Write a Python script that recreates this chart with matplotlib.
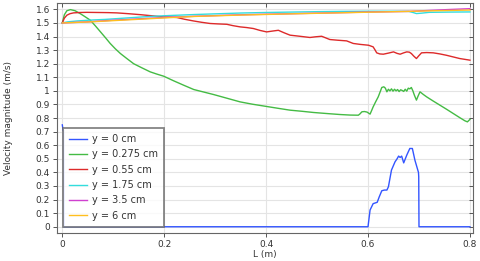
import matplotlib
matplotlib.use("Agg")
import matplotlib.pyplot as plt
import numpy as np

plt.rcParams['font.family'] = ['DejaVu Sans']

labels = ["y = 0 cm", "y = 0.275 cm", "y = 0.55 cm", "y = 1.75 cm", "y = 3.5 cm", "y = 6 cm"]
colors = ["#3355ff", "#44bb44", "#dd2a2a", "#33dddd", "#d040d0", "#ffbf1f"]

blue_x = [0, 0.0015, 0.0025, 0.003, 0.6, 0.6006, 0.604, 0.61, 0.618, 0.622, 0.627, 0.632, 0.637, 0.64, 0.646,
          0.653, 0.657, 0.66, 0.663, 0.666, 0.67, 0.676, 0.682, 0.687, 0.692, 0.699, 0.6995, 0.7, 0.8]
blue_y = [0.75, 0.71, 0.71, 0.0, 0.0, 0.02, 0.123, 0.17, 0.18, 0.22, 0.265, 0.27, 0.27, 0.294, 0.417,
          0.478, 0.50, 0.52, 0.51, 0.52, 0.47, 0.527, 0.576, 0.576, 0.49, 0.40, 0.368, 0.0, 0.0]

green_x = [0, 0.004, 0.009, 0.016, 0.025, 0.035, 0.045, 0.055, 0.065, 0.075, 0.085, 0.094, 0.104, 0.114,
           0.127, 0.14, 0.156, 0.1725, 0.186, 0.199, 0.218, 0.238, 0.258, 0.277, 0.297, 0.323, 0.349, 0.373,
           0.398, 0.423, 0.447, 0.47, 0.493, 0.52, 0.545, 0.565, 0.581, 0.584, 0.588, 0.593, 0.598, 0.604,
           0.607, 0.61, 0.615, 0.62, 0.624, 0.627, 0.631, 0.634, 0.637, 0.64, 0.643, 0.646, 0.649, 0.652,
           0.655, 0.658, 0.661, 0.664, 0.667, 0.670, 0.673, 0.676, 0.679, 0.682, 0.685, 0.688, 0.691, 0.695,
           0.698, 0.702, 0.708, 0.715, 0.728, 0.741, 0.754, 0.767, 0.78, 0.79, 0.795, 0.8]
green_y = [1.50, 1.56, 1.59, 1.598, 1.59, 1.569, 1.545, 1.52, 1.478, 1.434, 1.39, 1.349, 1.31, 1.275,
           1.237, 1.20, 1.17, 1.14, 1.123, 1.108, 1.075, 1.042, 1.01, 0.992, 0.973, 0.946, 0.919, 0.902,
           0.887, 0.872, 0.858, 0.85, 0.841, 0.833, 0.826, 0.822, 0.821, 0.83, 0.846, 0.848, 0.844, 0.829,
           0.855, 0.882, 0.92, 0.956, 0.995, 1.025, 1.03, 1.02, 0.993, 1.012, 1.0, 1.015, 0.998, 1.012,
           1.0, 1.01, 0.995, 1.008, 1.003, 0.996, 1.012, 0.998, 1.02, 1.015, 1.025, 1.0, 0.968, 0.932,
           0.96, 0.993, 0.975, 0.956, 0.925, 0.895, 0.865, 0.834, 0.803, 0.78, 0.772, 0.79]

red_x = [0, 0.004, 0.009, 0.015, 0.022, 0.035, 0.048, 0.07, 0.09, 0.107, 0.13, 0.153, 0.175, 0.199, 0.212,
         0.225, 0.24, 0.257, 0.273, 0.29, 0.305, 0.323, 0.335, 0.349, 0.362, 0.375, 0.388, 0.401, 0.412,
         0.424, 0.435, 0.447, 0.466, 0.486, 0.497, 0.509, 0.517, 0.525, 0.54, 0.558, 0.571, 0.585, 0.601,
         0.61, 0.614, 0.617, 0.623, 0.63, 0.64, 0.65, 0.657, 0.663, 0.67, 0.676, 0.681, 0.685, 0.69, 0.695,
         0.7, 0.705, 0.715, 0.728, 0.741, 0.754, 0.767, 0.78, 0.79, 0.8]
red_y = [1.5, 1.535, 1.557, 1.568, 1.574, 1.577, 1.578, 1.577, 1.576, 1.574, 1.568, 1.561, 1.553, 1.544,
         1.543, 1.54, 1.527, 1.515, 1.505, 1.496, 1.493, 1.49, 1.48, 1.471, 1.466, 1.459, 1.445, 1.434,
         1.44, 1.446, 1.428, 1.41, 1.402, 1.393, 1.398, 1.402, 1.39, 1.378, 1.373, 1.368, 1.349, 1.342,
         1.336, 1.324, 1.30, 1.28, 1.272, 1.27, 1.278, 1.287, 1.276, 1.27, 1.28, 1.287, 1.285, 1.275,
         1.255, 1.238, 1.26, 1.28, 1.282, 1.28, 1.272, 1.262, 1.25, 1.238, 1.232, 1.226]

cyan_x = [0, 0.01, 0.03, 0.06, 0.084, 0.12, 0.16, 0.2, 0.26, 0.3, 0.35, 0.4, 0.45, 0.5, 0.55, 0.6, 0.65,
          0.68, 0.69, 0.695, 0.705, 0.72, 0.76, 0.8]
cyan_y = [1.5, 1.508, 1.515, 1.522, 1.526, 1.535, 1.545, 1.553, 1.562, 1.567, 1.573, 1.577, 1.58, 1.583,
          1.585, 1.586, 1.586, 1.585, 1.575, 1.569, 1.572, 1.578, 1.58, 1.581]

mag_x = [0, 0.05, 0.1, 0.2, 0.26, 0.35, 0.45, 0.525, 0.6, 0.68, 0.72, 0.76, 0.8]
mag_y = [1.5, 1.508, 1.52, 1.54, 1.549, 1.56, 1.568, 1.574, 1.58, 1.585, 1.592, 1.599, 1.605]

yel_x = [0, 0.05, 0.1, 0.2, 0.26, 0.35, 0.45, 0.525, 0.6, 0.68, 0.72, 0.76, 0.8]
yel_y = [1.5, 1.507, 1.517, 1.537, 1.548, 1.558, 1.567, 1.573, 1.579, 1.585, 1.589, 1.592, 1.595]

series = [(blue_x, blue_y), (green_x, green_y), (red_x, red_y), (cyan_x, cyan_y), (mag_x, mag_y), (yel_x, yel_y)]

x_ticks = [0, 0.2, 0.4, 0.6, 0.8]
x_ticklabels = ["0", "0.2", "0.4", "0.6", "0.8"]
y_ticks = [round(0.1 * i, 1) for i in range(17)]
y_ticklabels = ["0", "0.1", "0.2", "0.3", "0.4", "0.5", "0.6", "0.7", "0.8", "0.9", "1",
                "1.1", "1.2", "1.3", "1.4", "1.5", "1.6"]

fig = plt.figure(figsize=(4.8, 2.61), dpi=100)
ax = fig.add_axes([57/480, 1 - 233/261, (473-57)/480, (233-2.7)/261])

for (xs, ys), c, lab in zip(series, colors, labels):
    ax.plot(xs, ys, color=c, lw=1.0, label=lab)

ax.set_xlim(-0.0104, 0.806)
ax.set_ylim(-0.046, 1.649)
ax.set_xticks(x_ticks)
ax.set_xticklabels(x_ticklabels)
ax.set_yticks(y_ticks)
ax.set_yticklabels(y_ticklabels)
ax.grid(True, color="#e4e4e4", lw=0.8)
ax.set_axisbelow(True)
for s in ax.spines.values():
    s.set_color("#666666")
    s.set_linewidth(0.8)
ax.tick_params(axis='both', which='major', labelsize=6.5, colors="#555555", labelcolor="#333333",
               length=3, width=0.7, pad=2, direction='out')
ax.tick_params(top=True, right=True)
for t in ax.xaxis.get_major_ticks():
    t.tick2line.set_marker(3)
for t in ax.yaxis.get_major_ticks():
    t.tick2line.set_marker(0)

ax.set_xlabel("L (m)", fontsize=6.5, color="#333333", labelpad=1)
ax.set_ylabel("Velocity magnitude (m/s)", fontsize=6.5, color="#333333", labelpad=16)

leg = ax.legend(loc='lower left', bbox_to_anchor=(0.0156, 0.028), borderaxespad=0, fontsize=7,
                frameon=True, fancybox=False, labelspacing=0.55, handlelength=1.85, handletextpad=0.5,
                borderpad=0.6)
leg.get_frame().set_edgecolor("#666666")
leg.get_frame().set_linewidth(1.3)
for t in leg.get_texts():
    t.set_color("#333333")

fig.savefig("out.png", dpi=100)
